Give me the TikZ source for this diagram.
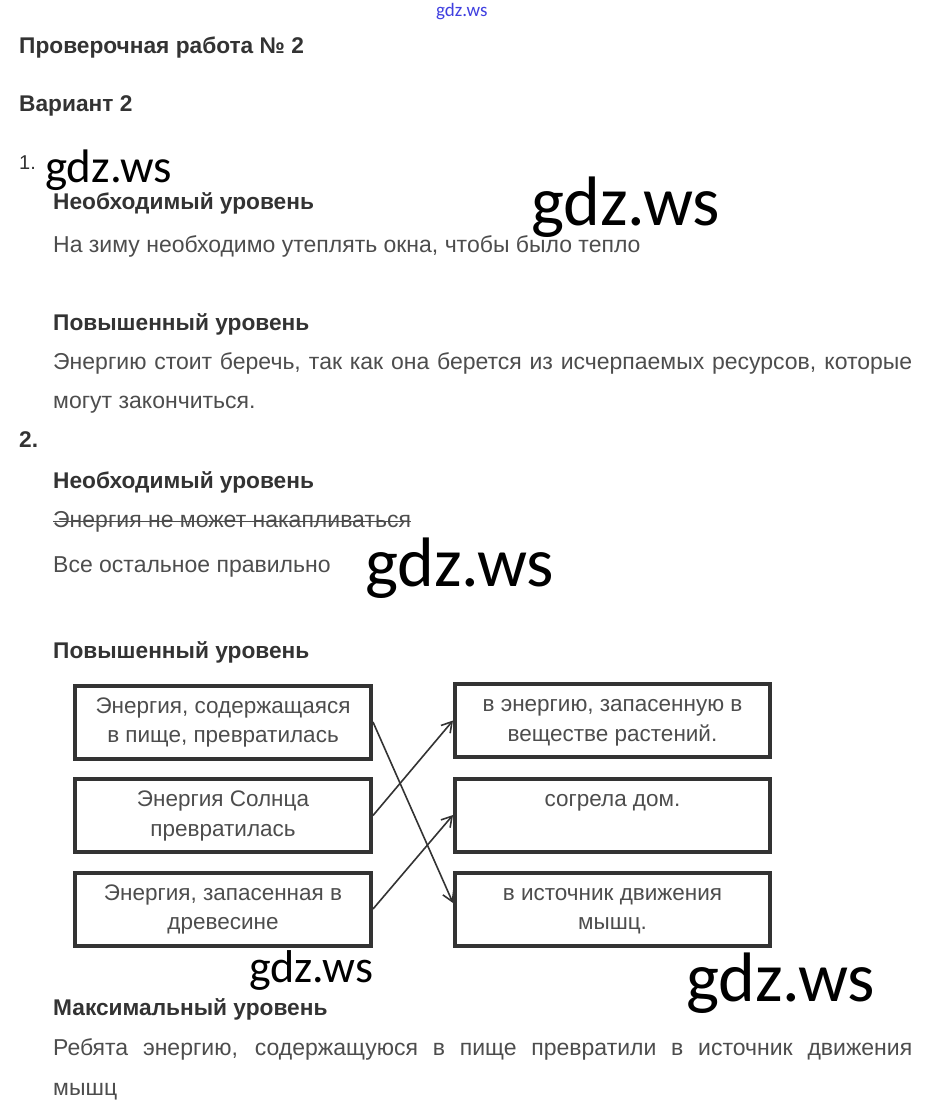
\documentclass[tikz,border=0pt]{standalone}
\usepackage{fontspec}
\setmainfont{Liberation Sans}
\newfontfamily\wmfont{Carlito}
\usetikzlibrary{arrows.meta}
\definecolor{headgray}{HTML}{333333}
\definecolor{textgray}{HTML}{4D4D4D}
\definecolor{linegray}{HTML}{333333}
\definecolor{siteblue}{HTML}{3F3FE0}
\newcommand\boxlines[2]{\strut#1\\\strut#2}
\begin{document}
\begin{tikzpicture}[x=1pt,y=-1pt,
  head/.style={anchor=base west,inner sep=0,text=headgray,font=\fontsize{22.7}{26}\selectfont\bfseries},
  body/.style={anchor=base west,inner sep=0,text=textgray,font=\fontsize{23}{27}\selectfont},
  wmark/.style={anchor=base west,inner sep=0,text=black,font=\wmfont\fontsize{#1}{#1}\selectfont},
  card/.style={draw=linegray,line width=4pt,minimum height=73pt,inner sep=0,align=center,text=textgray,font=\fontsize{22.5}{29.5}\selectfont},
  cardL/.style={card,minimum width=296pt},
  cardR/.style={card,minimum width=315pt},
  link/.style={-{Straight Barb[length=10pt,width=12pt]},draw=linegray,line width=1.6pt}]

\fill[white] (0,0) rectangle (924,1113);

\node(site)[wmark=19,text=siteblue] at (436,17) {gdz.ws};
\node(title)[head] at (19,54) {Проверочная работа № 2};
\node(variant)[head] at (19,112) {Вариант 2};

% 1.
\node(n1)[body,text=headgray,font=\fontsize{20}{22}\selectfont] at (19,169) {1.};
\node(h1a)[head] at (53,209) {Необходимый уровень};
\node(t1a)[body] at (53,252) {На зиму необходимо утеплять окна, чтобы было тепло};
\node(h1b)[head] at (53,330) {Повышенный уровень};
\node(t1b)[body] at (53,369) {\makebox[859pt][s]{Энергию стоит беречь, так как она берется из исчерпаемых ресурсов, которые}};
\node(t1c)[body] at (53,408) {могут закончиться.};

% 2.
\node(n2)[head] at (19,447) {2.};
\node(h2a)[head] at (53,488) {Необходимый уровень};
\node(strike)[body] at (53,527) {Энергия не может накапливаться};
\draw[textgray,line width=1.2pt] (strike.west) -- (strike.east);
\node(t2a)[body] at (53,572) {Все остальное правильно};
\node(h2b)[head] at (53,658) {Повышенный уровень};

\node(L1)[cardL] at (223,722) {\boxlines{Энергия, содержащаяся}{в пище, превратилась}};
\node(L2)[cardL] at (223,815.5) {\boxlines{Энергия Солнца}{превратилась}};
\node(L3)[cardL] at (223,909) {\boxlines{Энергия, запасенная в}{древесине}};
\node(R1)[cardR] at (612.5,720.5) {\boxlines{в энергию, запасенную в}{веществе растений.}};
\node(R2)[cardR] at (612.5,815) {\boxlines{согрела дом.}{}};
\node(R3)[cardR] at (612.5,909) {\boxlines{в источник движения}{мышц.}};

\draw[link] (L1.east) -- ([yshift=6pt]R3.west);
\draw[link] (L2.east) -- (R1.west);
\draw[link] (L3.east) -- (R2.west);

\node(h2c)[head] at (53,1015) {Максимальный уровень};
\node(t2b)[body] at (53,1055) {\makebox[859pt][s]{Ребята энергию, содержащуюся в пище превратили в источник движения}};
\node(t2c)[body] at (53,1095) {мышц};

% watermarks
\node(w1)[wmark=47] at (45,182) {gdz.ws};
\node(w2)[wmark=70] at (531,225) {gdz.ws};
\node(w3)[wmark=70] at (365,586) {gdz.ws};
\node(w4)[wmark=46] at (249,982) {gdz.ws};
\node(w5)[wmark=70] at (686,1001) {gdz.ws};

\end{tikzpicture}
\end{document}
